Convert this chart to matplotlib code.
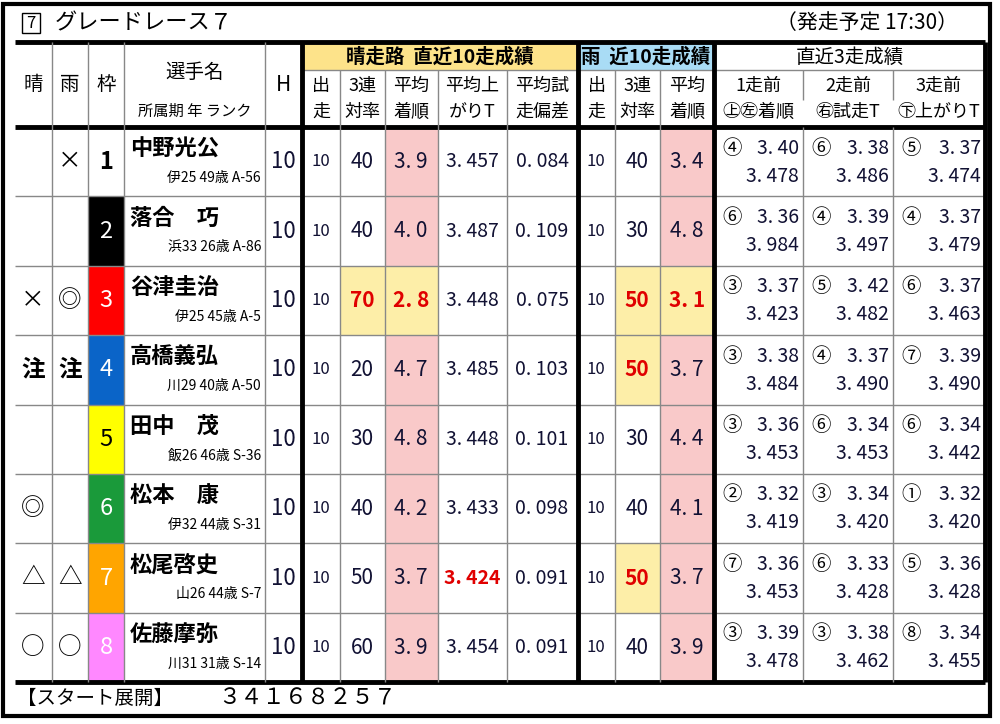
import matplotlib
matplotlib.use("Agg")
import matplotlib.pyplot as plt
from matplotlib.patches import Rectangle

plt.rcParams["font.family"] = "Noto Sans CJK JP"

hare_marks = ["", "", "×", "注", "", "◎", "△", "○"]
ame_marks = ["×", "", "◎", "注", "", "", "△", "○"]
names = ["中野光公", "落合　巧", "谷津圭治", "高橋義弘", "田中　茂", "松本　康", "松尾啓史", "佐藤摩弥"]
infos = ["伊25 49歳 A-56", "浜33 26歳 A-86", "伊25 45歳 A-5", "川29 40歳 A-50",
         "飯26 46歳 S-36", "伊32 44歳 S-31", "山26 44歳 S-7", "川31 31歳 S-14"]
handicap = [10, 10, 10, 10, 10, 10, 10, 10]
dry_runs = [10, 10, 10, 10, 10, 10, 10, 10]
dry_top3 = [40, 40, 70, 20, 30, 40, 50, 60]
dry_avg_finish = [3.9, 4.0, 2.8, 4.7, 4.8, 4.2, 3.7, 3.9]
dry_avg_agari = [3.457, 3.487, 3.448, 3.485, 3.448, 3.433, 3.424, 3.454]
dry_trial_dev = [0.084, 0.109, 0.075, 0.103, 0.101, 0.098, 0.091, 0.091]
wet_runs = [10, 10, 10, 10, 10, 10, 10, 10]
wet_top3 = [40, 30, 50, 50, 30, 40, 50, 40]
wet_avg_finish = [3.4, 4.8, 3.1, 3.7, 4.4, 4.1, 3.7, 3.9]
recent_pos = [["④", "⑥", "⑤"], ["⑥", "④", "④"], ["③", "⑤", "⑥"], ["③", "④", "⑦"],
              ["③", "⑥", "⑥"], ["②", "③", "①"], ["⑦", "⑥", "⑤"], ["③", "③", "⑧"]]
recent_trial = [[3.40, 3.38, 3.37], [3.36, 3.39, 3.37], [3.37, 3.42, 3.37], [3.38, 3.37, 3.39],
                [3.36, 3.34, 3.34], [3.32, 3.34, 3.32], [3.36, 3.33, 3.36], [3.39, 3.38, 3.34]]
recent_agari = [[3.478, 3.486, 3.474], [3.984, 3.497, 3.479], [3.423, 3.482, 3.463], [3.484, 3.490, 3.490],
                [3.453, 3.453, 3.442], [3.419, 3.420, 3.420], [3.453, 3.428, 3.428], [3.478, 3.462, 3.455]]
start_order = "３４１６８２５７"

waku_bg = ["white", "black", "#ff0000", "#0a64c8", "#ffff00", "#1a9a3a", "#ffa500", "#ff88ff"]
waku_fg = ["black", "white", "white", "white", "black", "white", "white", "white"]

PINK = "#f9c9c9"
YEL = "#fdeea8"
RED = "#e00000"
NUM = "#111133"

fig = plt.figure(figsize=(10, 7.24), dpi=100)
ax = fig.add_axes([0, 0, 1, 1])
ax.set_xlim(0, 1000)
ax.set_ylim(724, 0)
ax.axis("off")

def line(x0, y0, x1, y1, lw=1, c="#888888"):
    ax.plot([x0, x1], [y0, y1], color=c, lw=lw, solid_capstyle="butt")

def rect(x0, y0, x1, y1, fc):
    ax.add_patch(Rectangle((x0, y0), x1 - x0, y1 - y0, fc=fc, ec="none"))

def txt(x, y, s, size=12, ha="center", c="black", w="normal"):
    ax.text(x, y, s, fontsize=size, ha=ha, va="center", color=c, fontweight=w)

# outer frame
ax.add_patch(Rectangle((3, 4), 987, 712, fc="none", ec="black", lw=3))

# title
ax.add_patch(Rectangle((22, 13), 18, 20, fc="none", ec="black", lw=1))
txt(31, 23, "7", 12)
txt(55, 23, "グレードレース７", 16, ha="left")
txt(958, 23, "（発走予定 17:30）", 15, ha="right")

cols = [15, 52, 88, 124, 265, 302, 340, 385, 438, 507, 578, 615, 660, 714, 803, 893, 985]
T, H1, H2 = 42, 70, 127
rows = [127 + i * 69.4 for i in range(9)]

# header bands
rect(302, T, 578, H1, "#fde38a")
rect(578, T, 714, H1, "#a9dcf5")
txt(440, 57, "晴走路  直近10走成績", 14, w="bold")
txt(646, 57, "雨  近10走成績", 14, w="bold")
txt(850, 57, "直近3走成績", 14)
left_heads = ["晴", "雨", "枠"]
for i, s in enumerate(left_heads):
    txt((cols[i] + cols[i + 1]) / 2, 85, s, 14)
txt(195, 72, "選手名", 14)
txt(195, 111, "所属期 年 ランク", 11)
txt(283, 85, "H", 15)
subs = [("出", "走"), ("3連", "対率"), ("平均", "着順"), ("平均上", "がりT"), ("平均試", "走偏差"),
        ("出", "走"), ("3連", "対率"), ("平均", "着順")]
for i, (a, b) in enumerate(subs):
    xc = (cols[5 + i] + cols[6 + i]) / 2
    txt(xc, 86, a, 13)
    txt(xc, 112, b, 13)
rsubs = [("1走前", "㊤㊧着順"), ("2走前", "㊨試走T"), ("3走前", "㊦上がりT")]
for i, (a, b) in enumerate(rsubs):
    xc = (cols[13 + i] + cols[14 + i]) / 2
    txt(xc, 86, a, 13)
    txt(xc, 112, b, 13)

def fmt(v, d):
    return (f"{v:.{d}f}").replace(".", ". ")

for r in range(8):
    y0, y1 = rows[r], rows[r + 1]
    yc = (y0 + y1) / 2
    rect(cols[7], y0, cols[8], y1, YEL if r == 2 else PINK)
    rect(cols[12], y0, cols[13], y1, YEL if r == 2 else PINK)
    if dry_top3[r] >= 70:
        rect(cols[6], y0, cols[7], y1, YEL)
    if wet_top3[r] >= 50:
        rect(cols[11], y0, cols[12], y1, YEL)
    rect(cols[2], y0, cols[3], y1, waku_bg[r])
    txt(33, yc, hare_marks[r], 17, w="bold" if hare_marks[r] == "注" else "normal")
    txt(70, yc, ame_marks[r], 17, w="bold" if ame_marks[r] == "注" else "normal")
    txt(106, yc, str(r + 1), 17, c=waku_fg[r], w="bold" if r == 0 else "normal")
    txt(130, y0 + 22, names[r], 16, ha="left", w="bold")
    txt(261, y0 + 51, infos[r], 10, ha="right")
    txt(283, yc, str(handicap[r]), 16, c=NUM)
    txt(321, yc, str(dry_runs[r]), 12, c=NUM)
    red = dry_top3[r] >= 70
    txt(362, yc, str(dry_top3[r]), 15, c=RED if red else NUM, w="bold" if red else "normal")
    red = r == 2
    txt(411, yc, fmt(dry_avg_finish[r], 1), 15, c=RED if red else NUM, w="bold" if red else "normal")
    red = dry_avg_agari[r] == min(dry_avg_agari)
    txt(472, yc, fmt(dry_avg_agari[r], 3), 14, c=RED if red else NUM, w="bold" if red else "normal")
    txt(542, yc, fmt(dry_trial_dev[r], 3), 14, c=NUM)
    txt(596, yc, str(wet_runs[r]), 12, c=NUM)
    red = wet_top3[r] >= 50
    txt(637, yc, str(wet_top3[r]), 15, c=RED if red else NUM, w="bold" if red else "normal")
    red = r == 2
    txt(687, yc, fmt(wet_avg_finish[r], 1), 15, c=RED if red else NUM, w="bold" if red else "normal")
    for k in range(3):
        xl, xr = cols[13 + k], cols[14 + k]
        txt(xl + 18, y0 + 21, recent_pos[r][k], 14)
        txt(xr - 4, y0 + 21, fmt(recent_trial[r][k], 2), 14, ha="right", c=NUM)
        txt(xr - 4, y0 + 49, fmt(recent_agari[r][k], 3), 14, ha="right", c=NUM)
    if r < 7:
        line(15, y1, 985, y1, 1)

line(15, T, 985, T, 3.5, "black")
line(15, H2, 985, H2, 3.5, "black")
line(15, rows[8], 985, rows[8], 3.5, "black")
line(302, H1, 985, H1, 1)
for i, x in enumerate(cols[1:-1], start=1):
    if x in (302, 578, 714):
        line(x, T, x, rows[8], 3.5, "black")
    elif i >= 14:
        line(x, H1, x, 100, 1)
        line(x, H2, x, rows[8], 1)
    elif i >= 6:
        line(x, H1, x, rows[8], 1)
    else:
        line(x, T, x, rows[8], 1)
line(985, T, 985, rows[8], 3.5, "black")

txt(17, 698, "【スタート展開】", 14, ha="left")
txt(218, 698, start_order, 16, ha="left")

fig.savefig("out.png", dpi=100)
